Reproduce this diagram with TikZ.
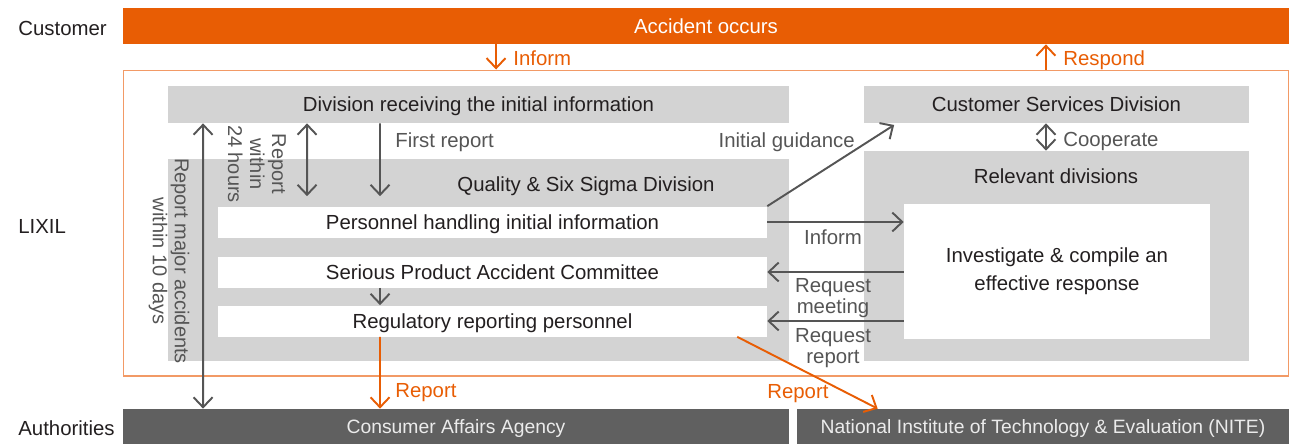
\documentclass[tikz,border=0pt]{standalone}
\usepackage{fontspec}
\setmainfont{Liberation Sans}
\usetikzlibrary{arrows.meta}
\definecolor{lxorange}{HTML}{E85D04}
\definecolor{lxframe}{HTML}{F29A66}
\definecolor{lxgray}{HTML}{D3D3D3}
\definecolor{lxdark}{HTML}{606060}
\definecolor{lxline}{HTML}{555555}
\definecolor{lxtext}{HTML}{231F20}
\begin{document}
\begin{tikzpicture}[x=0.02cm, y=-0.02cm, >={Straight Barb[length=0.2cm,width=0.38cm]},
  every node/.style={font=\fontsize{11.6}{12}\selectfont, text=lxtext, inner sep=0pt, text height=2ex, text depth=0.4ex},
  multi/.style={text height=, text depth=, align=center},
  grbox/.style={fill=lxgray, minimum height=0.74cm},
  wbox/.style={fill=white, minimum width=10.98cm, minimum height=0.62cm},
  darkbar/.style={fill=lxdark, text=black!8, minimum height=0.7cm, font=\fontsize{11}{12}\selectfont},
  lbl/.style={text=lxline},
  olbl/.style={text=lxorange},
  arr/.style={->, draw=lxline, line width=1.1pt},
  oarr/.style={->, draw=lxorange, line width=1.1pt}]
\useasboundingbox (0,0) rectangle (1296,444);
\node[anchor=west] (cust) at (18,28) {Customer};
\node[anchor=west] (lix) at (18,226) {LIXIL};
\node[anchor=west] (auth) at (18,428) {Authorities};
\node[fill=lxorange, text=white, minimum width=23.32cm, minimum height=0.72cm] (acc) at (706,26) {Accident occurs};
\node[draw=lxframe, line width=0.6pt, minimum width=23.32cm, minimum height=6.12cm] (lixil) at (706,223) {};
\node[grbox, minimum width=12.42cm] (div) at (478.5,104.5) {Division receiving the initial information};
\node[grbox, minimum width=7.7cm] (csd) at (1056.5,104.5) {Customer Services Division};
\node[fill=lxgray, minimum width=12.42cm, minimum height=4.04cm] (qual) at (478.5,260) {};
\node (qtitle) at (586,184) {Quality \& Six Sigma Division};
\node[fill=lxgray, minimum width=7.7cm, minimum height=4.2cm] (rel) at (1056.5,256) {};
\node (rtitle) at (1056,176) {Relevant divisions};
\node[wbox] (pers) at (492.5,222) {Personnel handling initial information};
\node[wbox] (comm) at (492.5,272) {Serious Product Accident Committee};
\node[wbox] (reg) at (492.5,321) {Regulatory reporting personnel};
\node[fill=white, minimum width=6.12cm, minimum height=2.7cm, multi, font=\fontsize{11.6}{16}\selectfont] (inv) at (1057,271.5) {Investigate \& compile an\\effective response};
\node[darkbar, minimum width=13.32cm] (caa) at (456,426.5) {Consumer Affairs Agency};
\node[darkbar, minimum width=9.84cm] (nite) at (1043,426.5) {National Institute of Technology \& Evaluation (NITE)};
\draw[oarr] ([xshift=-4.2cm]acc.south)--([xshift=-4.2cm]lixil.north);
\node[olbl, anchor=west] (linf) at (513,58) {Inform};
\draw[oarr] ([xshift=6.8cm]lixil.north)--([xshift=6.8cm]acc.south);
\node[olbl, anchor=west] (lresp) at (1063,58) {Respond};
\draw[arr, <->] ([xshift=-5.51cm]div.south)--([xshift=-5.06cm]caa.north);
\node[lbl, rotate=-90, multi, font=\fontsize{11.4}{12.5}\selectfont] (l10) at (169,261) {Report major accidents\\within 10 days};
\draw[arr, <->, shorten >=0.2cm] ([xshift=-3.43cm]div.south)--([xshift=-3.71cm]pers.north);
\node[lbl, rotate=-90, multi, font=\fontsize{11.4}{12.5}\selectfont] (l24) at (257,164) {Report\\within\\24 hours};
\draw[arr, shorten >=0.2cm] ([xshift=-1.97cm]div.south)--([xshift=-2.25cm]pers.north);
\node[lbl, anchor=west] (lfirst) at (395,140) {First report};
\draw[arr, shorten >=0.06cm] (pers.north east)--([xshift=0.66cm]csd.south west);
\node[lbl, anchor=east] (lguide) at (855,140) {Initial guidance};
\draw[arr, <->] ([xshift=-0.21cm]csd.south)--([xshift=-0.21cm]rel.north);
\node[lbl, anchor=west] (lcoop) at (1063,139) {Cooperate};
\draw[arr] (pers.east)--(pers.east -| inv.west);
\node[lbl] (linf2) at (833,237) {Inform};
\draw[arr] (comm.east -| inv.west)--(comm.east);
\node[lbl, multi] (lmeet) at (833,298) {Request\\meeting};
\draw[arr] (reg.east -| inv.west)--(reg.east);
\node[lbl, multi] (lrep) at (833,348) {Request\\report};
\draw[arr] ([xshift=-2.25cm]comm.south)--([xshift=-2.25cm]reg.north);
\draw[oarr] ([xshift=-2.25cm]reg.south)--([xshift=-1.52cm]caa.north);
\node[olbl, anchor=west] (lrep1) at (395,390) {Report};
\draw[oarr] ([xshift=-0.6cm]reg.south east)--([xshift=1.62cm]nite.north west);
\node[olbl, anchor=west] (lrep2) at (767,391) {Report};
\end{tikzpicture}
\end{document}
